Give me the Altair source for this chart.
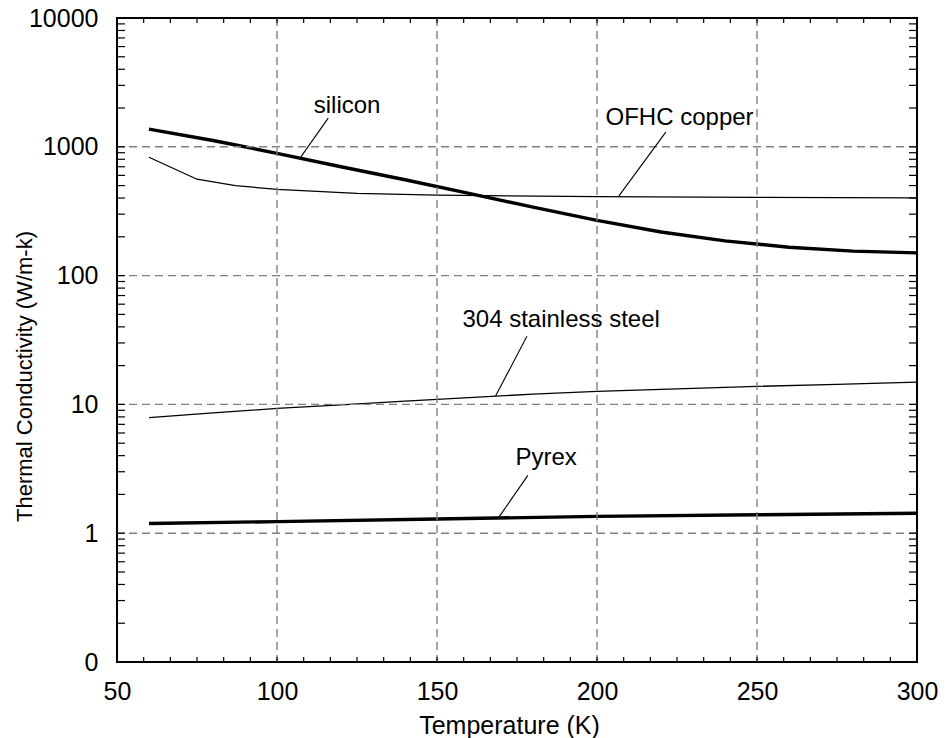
import altair as alt
import pandas as pd

# ---- data ----
T_silicon = [60, 80, 100, 120, 140, 160, 180, 200, 220, 240, 260, 280, 300]
k_silicon = [1370, 1120, 890, 700, 555, 435, 340, 268, 218, 186, 166, 155, 150]

T_copper = [60, 75, 87, 100, 125, 150, 200, 250, 300]
k_copper = [830, 560, 500, 467, 435, 422, 410, 405, 402]

T_steel = [60, 80, 100, 120, 140, 160, 180, 200, 225, 250, 275, 300]
k_steel = [7.9, 8.6, 9.3, 9.9, 10.6, 11.3, 12.0, 12.6, 13.2, 13.8, 14.3, 14.9]

T_pyrex = [60, 100, 150, 200, 250, 300]
k_pyrex = [1.19, 1.23, 1.29, 1.35, 1.39, 1.43]

x_labels = [50, 100, 150, 200, 250, 300]
y_labels = [0.1, 1, 10, 100, 1000, 10000]
x_grid = [100, 150, 200, 250]
y_grid = [1, 10, 100, 1000]
x_minor = [50 + i * 50 / 6 for i in range(1, 30)]
y_minor = [m * 10 ** e for e in range(-1, 4) for m in range(1, 10) if not (m == 1 and e == -1)]

ann_text = ["silicon", "OFHC copper", "304 stainless steel", "Pyrex"]
ann_T = [121.9, 225.8, 188.8, 184.1]
ann_k = [1828, 1474, 39.7, 3.37]
lead_T1 = [116.0, 221.5, 178.1, 178.4]
lead_k1 = [1671, 1300, 33.8, 2.81]
lead_T2 = [107.2, 206.8, 168.3, 169.3]
lead_k2 = [817, 414, 11.6, 1.327]

# ---- tables ----
def series(name, Ts, ks):
    return pd.DataFrame({"material": name, "T": Ts, "k": ks})

df_thick = pd.concat([series("silicon", T_silicon, k_silicon), series("Pyrex", T_pyrex, k_pyrex)])
df_thin = pd.concat([series("OFHC copper", T_copper, k_copper),
                     series("304 stainless steel", T_steel, k_steel)])
df_ann = pd.DataFrame({"text": ann_text, "T": ann_T, "k": ann_k,
                       "T1": lead_T1, "k1": lead_k1, "T2": lead_T2, "k2": lead_k2})
df_xg = pd.DataFrame({"T": x_grid})
df_yg = pd.DataFrame({"k": y_grid})
df_xm = pd.DataFrame({"T": x_minor})
df_ym = pd.DataFrame({"k": y_minor})

W, H = 800, 644
FONT = "Liberation Sans"
xs = alt.Scale(domain=[50, 300], nice=False, zero=False)
ys = alt.Scale(type="log", domain=[0.1, 10000], nice=False)

ax_x = alt.Axis(values=x_labels, title="Temperature (K)", labelPadding=17, labelFlush=False,
                titleX=392, titleY=71, titleBaseline="alphabetic", titleAlign="center",
                titleFontSize=25)
ax_y = alt.Axis(values=y_labels, title="Thermal Conductivity (W/m-k)", labelPadding=19,
                labelFlush=False,
                labelExpr="datum.value < 0.5 ? '0' : format(datum.value, 'd')",
                titleX=-86, titleY=358, titleAngle=-90, titleBaseline="alphabetic",
                titleAlign="center", titleFontSize=22)


def X(field):
    return alt.X(field, type="quantitative", scale=xs, axis=ax_x)


def Y(field):
    return alt.Y(field, type="quantitative", scale=ys, axis=ax_y)


lines_thick = alt.Chart(df_thick).mark_line(color="black", strokeWidth=3.4).encode(
    x=X("T"), y=Y("k"), detail="material:N")
lines_thin = alt.Chart(df_thin).mark_line(color="black", strokeWidth=1.3).encode(
    x=X("T"), y=Y("k"), detail="material:N")

grid_style = dict(color="#808080", strokeDash=[8, 5], strokeWidth=1.4)
vgrid = alt.Chart(df_xg).mark_rule(**grid_style).encode(x=X("T"))
hgrid = alt.Chart(df_yg).mark_rule(**grid_style).encode(y=Y("k"))

tick_style = dict(color="black", strokeWidth=1.2)
xt_bottom = alt.Chart(df_xm).mark_rule(**tick_style).encode(
    x=X("T"), y=alt.value(H), y2=alt.value(H - 5))
xt_top = alt.Chart(df_xm).mark_rule(**tick_style).encode(
    x=X("T"), y=alt.value(0), y2=alt.value(5))
yt_left = alt.Chart(df_ym).mark_rule(**tick_style).encode(
    y=Y("k"), x=alt.value(0), x2=alt.value(8))
yt_right = alt.Chart(df_ym).mark_rule(**tick_style).encode(
    y=Y("k"), x=alt.value(W), x2=alt.value(W - 8))

leaders = alt.Chart(df_ann).mark_rule(color="black", strokeWidth=1.1).encode(
    x=X("T1"), y=Y("k1"), x2="T2:Q", y2="k2:Q")

labels = alt.Chart(df_ann).mark_text(font=FONT, fontSize=24, color="black",
                                     align="center", baseline="alphabetic").encode(
    x=X("T"), y=Y("k"), text="text:N")

chart = alt.layer(lines_thick, lines_thin, vgrid, hgrid, xt_bottom, xt_top, yt_left, yt_right,
                  leaders, labels).properties(
    width=W, height=H,
    background="white",
    autosize=alt.AutoSizeParams(type="none"),
    padding={"left": 117, "top": 18, "right": 29, "bottom": 76},
).configure_view(stroke="black", strokeWidth=2).configure_axis(
    labelFont=FONT, labelFontSize=25, labelColor="black",
    titleFont=FONT, titleFontWeight="normal", titleColor="black",
    domain=False, ticks=False, tickSize=0, grid=False,
)

chart.save("out.html", embed_options={"renderer": "svg", "actions": False})
